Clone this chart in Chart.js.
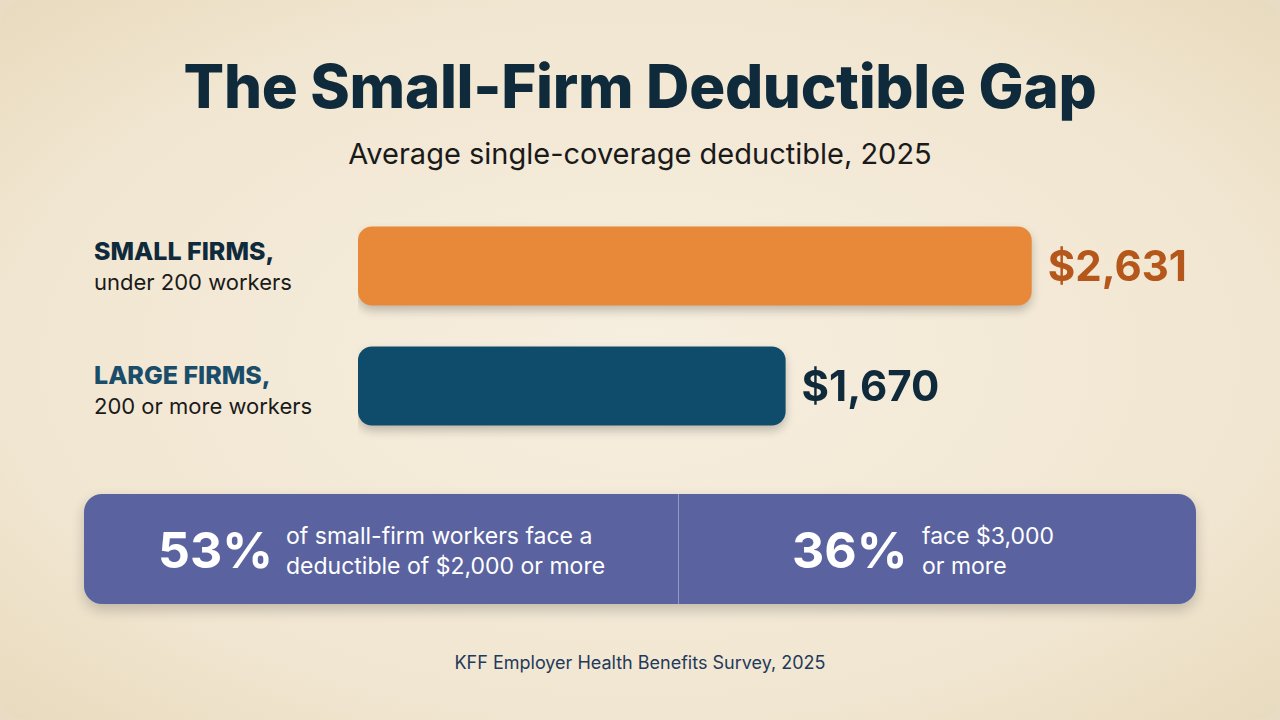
<!DOCTYPE html>
<html>
<head>
<meta charset="utf-8">
<script src="https://cdn.jsdelivr.net/npm/chart.js"></script>
<style>
  body { margin:0; width:1280px; height:720px; background:#e9dcc4; font-family: Inter, "Noto Sans", sans-serif; overflow:hidden; }
  .card { position:absolute; left:0; top:0; width:1280px; height:720px; border-radius:28px;
    background: radial-gradient(ellipse at center, #f6eedf 0%, #f1e6d1 70%, #e8dabd 100%); }
  .title { position:absolute; top:50px; width:100%; text-align:center; font-size:60px; font-weight:800; color:#0f2a3a; letter-spacing:-0.3px; }
  .sub { position:absolute; top:136px; width:100%; text-align:center; font-size:29px; color:#1a1a1a; }
  .lab { position:absolute; left:94px; font-size:22px; color:#1a1a1a; line-height:30px; }
  .lab b { font-size:25px; font-weight:800; }
  .wrap { position:absolute; left:358px; top:206px; width:845px; height:240px; }
  .callout { position:absolute; left:84px; top:494px; width:1112px; height:110px; border-radius:18px; background:#5a63a0;
    box-shadow:0 6px 14px rgba(0,0,0,0.2); color:#fff; }
  .div { position:absolute; left:594px; top:0; width:1px; height:110px; background:rgba(255,255,255,0.35); }
  .big { position:absolute; top:26px; font-size:50px; font-weight:700; }
  .txt { position:absolute; top:27px; font-size:23px; line-height:30px; }
  .foot { position:absolute; top:652px; width:100%; text-align:center; font-size:18px; color:#1f3a5a; }
</style>
</head>
<body>
<div class="card"></div>
<div class="title">The Small-Firm Deductible Gap</div>
<div class="sub">Average single-coverage deductible, 2025</div>
<div class="lab" style="top:236px"><b style="color:#0f2a3a">SMALL FIRMS,</b><br>under 200 workers</div>
<div class="lab" style="top:360px"><b style="color:#1a4d6a">LARGE FIRMS,</b><br>200 or more workers</div>
<div class="wrap"><canvas id="c"></canvas></div>
<div class="callout">
  <div class="big" style="left:74px">53%</div>
  <div class="txt" style="left:202px">of small-firm workers face a<br>deductible of $2,000 or more</div>
  <div class="div"></div>
  <div class="big" style="left:708px">36%</div>
  <div class="txt" style="left:838px">face $3,000<br>or more</div>
</div>
<div class="foot">KFF Employer Health Benefits Survey, 2025</div>
<script>
const categories = ['Small firms', 'Large firms'];
const deductibles = [2631, 1670];
const valueLabels = ['$2,631', '$1,670'];
const barColors = ['#e8893a', '#0f4c6b'];
const labelColors = ['#b5561a', '#0f2a3a'];

const valuePlugin = {
  id: 'values',
  beforeDatasetsDraw(chart) {
    const ctx = chart.ctx;
    ctx.save();
    ctx.shadowColor = 'rgba(0,0,0,0.22)';
    ctx.shadowBlur = 10;
    ctx.shadowOffsetY = 5;
  },
  afterDatasetsDraw(chart) {
    const ctx = chart.ctx;
    ctx.restore();
    ctx.save();
    chart.getDatasetMeta(0).data.forEach((bar, i) => {
      ctx.fillStyle = labelColors[i];
      ctx.font = '700 42px Inter, "Noto Sans", sans-serif';
      ctx.textBaseline = 'middle';
      ctx.fillText(valueLabels[i], bar.x + 16, bar.y + 2);
    });
    ctx.restore();
  }
};

new Chart(document.getElementById('c'), {
  type: 'bar',
  data: {
    labels: categories,
    datasets: [{
      data: deductibles,
      backgroundColor: barColors,
      borderRadius: 14,
      borderSkipped: false,
      barPercentage: 0.66,
      categoryPercentage: 1
    }]
  },
  options: {
    indexAxis: 'y',
    responsive: true,
    maintainAspectRatio: false,
    animation: false,
    layout: { padding: 0 },
    plugins: { legend: { display: false }, tooltip: { enabled: false } },
    scales: {
      x: { display: false, min: 0, max: 3300 },
      y: { display: false }
    }
  },
  plugins: [valuePlugin]
});
</script>
</body>
</html>
